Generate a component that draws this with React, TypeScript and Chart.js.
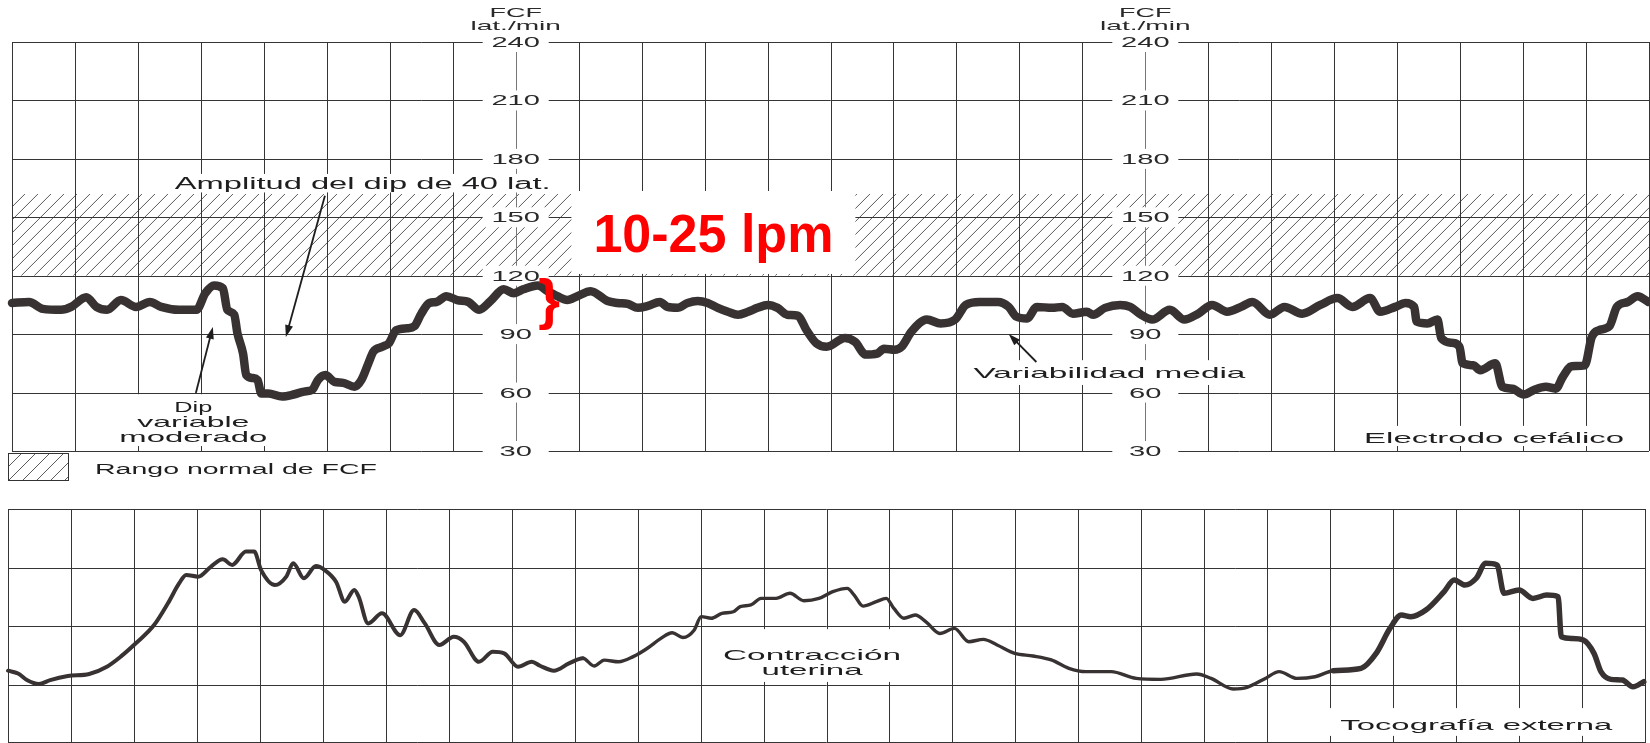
import { useEffect, useRef } from 'react';
import { Chart, registerables } from 'chart.js';

Chart.register(...registerables);

// ---------- DATA ----------
// Fetal heart rate trace: [minute, beats per minute]
const fhrTrace: [number, number][] = [
  [0, 106], [0.27, 106.5], [0.49, 103], [0.78, 102.5], [0.94, 104], [1.18, 109], [1.34, 104], [1.51, 102.5],
  [1.73, 107.5], [1.97, 104], [2.19, 106.5], [2.37, 104], [2.65, 102.5], [2.93, 102.5], [3.07, 111], [3.21, 115],
  [3.35, 113.5], [3.42, 102.5], [3.53, 100], [3.58, 90.5], [3.67, 80], [3.72, 69], [3.82, 67.5], [3.9, 66.5],
  [3.96, 59.5], [4.07, 59.5], [4.29, 58], [4.47, 59], [4.64, 60.5], [4.77, 61.5], [4.86, 66.5], [4.98, 69],
  [5.12, 65.5], [5.26, 65], [5.44, 63], [5.55, 66.5], [5.66, 75], [5.74, 81], [5.88, 83.5], [5.99, 85.5],
  [6.1, 92], [6.28, 93], [6.39, 94], [6.5, 100.5], [6.63, 106], [6.74, 106.5], [6.9, 109.5], [7.07, 107.5],
  [7.25, 106.5], [7.42, 102.5], [7.6, 107], [7.81, 113], [7.97, 111], [8.12, 113], [8.35, 115], [8.51, 112],
  [8.66, 109.5], [8.82, 107.5], [8.98, 109.5], [9.19, 112], [9.46, 107], [9.62, 106], [9.78, 105.5], [9.94, 103.5],
  [10.1, 104.5], [10.29, 106.5], [10.41, 104], [10.57, 103.5], [10.73, 106], [10.89, 107], [11.05, 106], [11.21, 103.5],
  [11.37, 101.5], [11.53, 100], [11.69, 101.5], [11.84, 103.5], [12.0, 105], [12.16, 103.5], [12.31, 100], [12.48, 99.5],
  [12.62, 92], [12.77, 85.5], [12.94, 83.5], [13.23, 88], [13.39, 86], [13.56, 79.5], [13.74, 80], [13.85, 82.5],
  [14.02, 82], [14.13, 83.5], [14.29, 91.5], [14.53, 97.5], [14.75, 95.5], [14.98, 97.5], [15.15, 105], [15.37, 106.5],
  [15.66, 106.5], [15.83, 104], [15.95, 99], [16.12, 98], [16.28, 104], [16.52, 103.5], [16.68, 104], [16.85, 100.5],
  [17.07, 101.5], [17.17, 100], [17.36, 103.5], [17.6, 105], [17.76, 104], [17.93, 100], [18.11, 97.5], [18.39, 102.5],
  [18.62, 97.5], [18.84, 100.5], [19.06, 105], [19.3, 101.5], [19.52, 104], [19.7, 106.5], [19.98, 100], [20.21, 104],
  [20.49, 100.5], [20.78, 105], [21.05, 108.5], [21.29, 104], [21.57, 108.5], [21.73, 101.5], [21.97, 104], [22.13, 106],
  [22.27, 104], [22.31, 96.5], [22.48, 95.5], [22.64, 97.5], [22.7, 88], [22.88, 85.5], [22.99, 83.5], [23.04, 75],
  [23.21, 74], [23.32, 71.5], [23.56, 75], [23.67, 63], [23.83, 62], [24.01, 59], [24.18, 61.5], [24.36, 63],
  [24.52, 62], [24.63, 68], [24.77, 73.5], [24.98, 74], [25.09, 88.5], [25.2, 92], [25.37, 94], [25.49, 104],
  [25.66, 106.5], [25.82, 109.5], [25.99, 106.5],
];

// Uterine contraction (tocography) trace: [minute, relative pressure]
const tocoTrace: [number, number][] = [
  [0, 30.9], [0.16, 29.7], [0.3, 26.9], [0.49, 25.2], [0.67, 26.9], [0.95, 28.6], [1.29, 29.5], [1.57, 32.6],
  [1.79, 36.9], [2.03, 42.6], [2.32, 50.4], [2.54, 59.7], [2.72, 68.3], [2.83, 71.8], [3.02, 71.1], [3.22, 75.3],
  [3.41, 78.5], [3.56, 76.1], [3.78, 81.8], [3.91, 81.8], [4.02, 73.9], [4.24, 67.5], [4.42, 71.1], [4.53, 76.8],
  [4.7, 70.4], [4.89, 75.6], [5.03, 73.9], [5.21, 68.9], [5.35, 60.4], [5.5, 65.4], [5.57, 62.5], [5.72, 51.1],
  [5.94, 55.4], [6.23, 46.1], [6.45, 56.8], [6.62, 51.1], [6.85, 41.9], [7.08, 45.4], [7.24, 43.3], [7.48, 34.7],
  [7.7, 39], [7.88, 38.3], [8.1, 32.6], [8.32, 34.7], [8.45, 33], [8.67, 30.9], [8.91, 34], [9.13, 36.2],
  [9.31, 32.9], [9.47, 35.4], [9.7, 34.7], [9.93, 36.9], [10.15, 40.4], [10.37, 44.7], [10.55, 47.1], [10.72, 45.1],
  [10.9, 48.3], [11.01, 54], [11.17, 53.3], [11.34, 55.4], [11.52, 56.1], [11.63, 58.3], [11.8, 59], [11.96, 61.8],
  [12.2, 61.8], [12.42, 64], [12.64, 60.8], [12.88, 61.8], [13.1, 64.7], [13.33, 66.1], [13.44, 63.2], [13.58, 58.5],
  [13.79, 60.4], [13.95, 61.8], [14.07, 57.5], [14.23, 53.3], [14.41, 54.7], [14.58, 51.8], [14.8, 46.8], [15.03, 49],
  [15.26, 43.3], [15.49, 44.3], [15.71, 41.9], [15.99, 38.3], [16.28, 37.2], [16.57, 35.5], [16.85, 31.9], [17.12, 30.5],
  [17.3, 30.5], [17.52, 30.5], [17.92, 27.6], [18.31, 27.2], [18.88, 29.5], [19.11, 27.6], [19.46, 23.1], [19.68, 23.8],
  [19.97, 27.6], [20.19, 30.5], [20.47, 27.6], [20.76, 28.3], [21.05, 30.9], [21.49, 31.9], [21.73, 38.3], [21.95, 49],
  [22.13, 54.7], [22.28, 54], [22.52, 56.8], [22.81, 64.7], [22.97, 69.7], [23.14, 67.5], [23.32, 70.4], [23.47, 76.8],
  [23.65, 76.1], [23.76, 64], [24.0, 65.4], [24.22, 61.8], [24.44, 63.2], [24.62, 62.5], [24.67, 45.4], [24.84, 44.7],
  [25.02, 44], [25.19, 38.3], [25.3, 30.5], [25.46, 27.2], [25.64, 26.9], [25.81, 24], [25.98, 26.2],
];

const fhrTicks = [30, 60, 90, 120, 150, 180, 210, 240];
const tocoLevels = [0, 25, 50, 75, 100];
const gridMinutes = [0, 1, 2, 3, 4, 5, 6, 7, 8, 9, 10, 11, 12, 13, 14, 15, 16, 17, 18, 19, 20, 21, 22, 23, 24, 25, 26];
const scaleColumns = [8, 18];
const normalRange = [120, 162];
const axisTitle = ['FCF', 'lat./min'];
const legendText = 'Rango normal de FCF';
const variabilityText = '10-25 lpm';

// annotations (data coordinates: [minute, value])
const fhrNotes = [
  { lines: [['Amplitud del dip de 40 lat.', 376]], at: [5.57, 164.3], size: 16, gap: 0, pad: [4, 4, 3] },
  { lines: [['Dip', 38], ['variable', 112], ['moderado', 148]], at: [2.88, 50], size: 15, gap: 15, pad: [5, 7, 4] },
  { lines: [['Variabilidad media', 272]], at: [17.43, 67.5], size: 15, gap: 0, pad: [8, 7, 7] },
  { lines: [['Electrodo cefálico', 260]], at: [23.54, 34.1], size: 15.5, gap: 0, pad: [8, 6, 3] },
];
const fhrArrows = [
  { from: [4.97, 161], to: [4.35, 88.5] },
  { from: [2.92, 59.8], to: [3.19, 93.7] },
  { from: [16.27, 75.7], to: [15.83, 90.1] },
];
const variabilityLabel = { at: [11.14, 132.2], size: 53, width: 240, pad: [22, 23, 22] };
const braceMark = { at: [8.53, 106], size: 56 };

const tocoNotes = [
  { lines: [['Contracción', 178], ['uterina', 101]], at: [12.77, 35.5], size: 15, gap: 15, pad: [16, 20, 7] },
  { lines: [['Tocografía externa', 272]], at: [23.32, 5.6], size: 15, gap: 0, pad: [14, 11, 6] },
];

// ---------- STYLE ----------
const FONT = '"Liberation Sans", Arial, Helvetica, sans-serif';
const INK = '#1f1d1d';
const GRID = '#353535';
const TRACE = '#383232';
const HATCH = '#5a5a5a';
const RED = '#ff0000';
const LABEL_SX = 2.08;

function drawText(ctx: CanvasRenderingContext2D, text: string, cx: number, base: number, size: number, opt: any = {}) {
  ctx.save();
  ctx.font = `${opt.weight || 'normal'} ${size}px ${FONT}`;
  const w = ctx.measureText(text).width;
  const sx = opt.width ? opt.width / w : opt.sx || 1;
  ctx.translate(cx, base);
  ctx.scale(sx, 1);
  ctx.fillStyle = opt.color || INK;
  ctx.textAlign = 'center';
  ctx.textBaseline = 'alphabetic';
  ctx.fillText(text, 0, 0);
  ctx.restore();
  return w * sx;
}

function hatch(ctx: CanvasRenderingContext2D, x0: number, y0: number, x1: number, y1: number, step: number) {
  ctx.save();
  ctx.beginPath();
  ctx.rect(x0, y0, x1 - x0, y1 - y0);
  ctx.clip();
  ctx.beginPath();
  const h = y1 - y0;
  for (let x = x0 - h; x < x1 + h; x += step) {
    ctx.moveTo(x, y1);
    ctx.lineTo(x + h, y0);
  }
  ctx.strokeStyle = HATCH;
  ctx.lineWidth = 1;
  ctx.stroke();
  ctx.restore();
}

const crisp = (v: number) => Math.round(v) + 0.5;

function drawNote(ctx: CanvasRenderingContext2D, chart: any, note: any) {
  const cx = chart.scales.x.getPixelForValue(note.at[0]);
  const base = chart.scales.y.getPixelForValue(note.at[1]);
  const cap = note.size * 0.72;
  const half = Math.max(...note.lines.map((l: any) => l[1])) / 2;
  const top = base - cap - note.pad[1];
  const bottom = base + (note.lines.length - 1) * note.gap + note.pad[2];
  ctx.fillStyle = '#ffffff';
  ctx.fillRect(cx - half - note.pad[0], top, 2 * (half + note.pad[0]), bottom - top);
  note.lines.forEach((l: any, i: number) => {
    drawText(ctx, l[0], cx, base + i * note.gap, note.size, { width: l[1] });
  });
}

function drawArrow(ctx: CanvasRenderingContext2D, x0: number, y0: number, x1: number, y1: number) {
  const a = Math.atan2(y1 - y0, x1 - x0);
  const len = 12;
  const hw = 4;
  ctx.save();
  ctx.strokeStyle = INK;
  ctx.fillStyle = INK;
  ctx.lineWidth = 1.8;
  ctx.beginPath();
  ctx.moveTo(x0, y0);
  ctx.lineTo(x1 - Math.cos(a) * len * 0.7, y1 - Math.sin(a) * len * 0.7);
  ctx.stroke();
  ctx.beginPath();
  ctx.moveTo(x1, y1);
  ctx.lineTo(x1 - Math.cos(a) * len - Math.sin(a) * hw, y1 - Math.sin(a) * len + Math.cos(a) * hw);
  ctx.lineTo(x1 - Math.cos(a) * len + Math.sin(a) * hw, y1 - Math.sin(a) * len - Math.cos(a) * hw);
  ctx.closePath();
  ctx.fill();
  ctx.restore();
}

const fhrPaper = {
  id: 'fhrPaper',
  beforeDatasetsDraw(chart: any) {
    const { ctx, chartArea: ca } = chart;
    const xs = chart.scales.x;
    const ys = chart.scales.y;
    ctx.save();
    // normal range hatch
    hatch(ctx, ca.left, ys.getPixelForValue(normalRange[1]), ca.right, ys.getPixelForValue(normalRange[0]), 13);
    // grid
    ctx.beginPath();
    fhrTicks.forEach((v) => {
      const y = crisp(ys.getPixelForValue(v));
      ctx.moveTo(ca.left, y);
      ctx.lineTo(ca.right, y);
    });
    gridMinutes.forEach((m) => {
      if (scaleColumns.includes(m)) return;
      const x = crisp(xs.getPixelForValue(m));
      ctx.moveTo(x, ys.getPixelForValue(240));
      ctx.lineTo(x, ys.getPixelForValue(30));
    });
    ctx.strokeStyle = GRID;
    ctx.lineWidth = 1;
    ctx.stroke();
    // scale columns
    scaleColumns.forEach((m) => {
      const cx = xs.getPixelForValue(m);
      ctx.beginPath();
      ctx.moveTo(crisp(cx), ys.getPixelForValue(240));
      ctx.lineTo(crisp(cx), ys.getPixelForValue(30));
      ctx.strokeStyle = '#777';
      ctx.lineWidth = 1;
      ctx.stroke();
      fhrTicks.forEach((v) => {
        const y = ys.getPixelForValue(v);
        ctx.fillStyle = '#fff';
        ctx.fillRect(cx - 33, y - 10, 66, 20);
        drawText(ctx, String(v), cx, y + 5, 14, { sx: LABEL_SX, color: '#2a2a2a' });
      });
      drawText(ctx, axisTitle[0], cx, ca.top - 25, 13, { sx: LABEL_SX, color: '#2a2a2a' });
      drawText(ctx, axisTitle[1], cx, ca.top - 12, 13.5, { sx: LABEL_SX, color: '#2a2a2a' });
    });
    // notes
    fhrNotes.forEach((n) => drawNote(ctx, chart, n));
    // legend
    const lx = ca.left - 4;
    const ly = ca.bottom + 2;
    hatch(ctx, lx, ly, lx + 60, ly + 27, 14);
    ctx.strokeStyle = '#333';
    ctx.lineWidth = 1;
    ctx.strokeRect(crisp(lx), crisp(ly), 60, 27);
    drawText(ctx, legendText, lx + 228, ly + 21, 14, { width: 282 });
    ctx.restore();
  },
  afterDatasetsDraw(chart: any) {
    const { ctx } = chart;
    const xs = chart.scales.x;
    const ys = chart.scales.y;
    ctx.save();
    fhrArrows.forEach((a) => {
      drawArrow(
        ctx,
        xs.getPixelForValue(a.from[0]), ys.getPixelForValue(a.from[1]),
        xs.getPixelForValue(a.to[0]), ys.getPixelForValue(a.to[1]),
      );
    });
    // red variability label
    const lbl = variabilityLabel;
    const cx = xs.getPixelForValue(lbl.at[0]);
    const base = ys.getPixelForValue(lbl.at[1]);
    const cap = lbl.size * 0.716;
    ctx.fillStyle = '#fff';
    ctx.fillRect(cx - lbl.width / 2 - lbl.pad[0], base - cap - lbl.pad[1], lbl.width + 2 * lbl.pad[0], cap + lbl.pad[1] + lbl.pad[2]);
    drawText(ctx, variabilityText, cx, base, lbl.size, { width: lbl.width, color: RED, weight: 'bold' });
    // brace
    const bx = xs.getPixelForValue(braceMark.at[0]);
    const by = ys.getPixelForValue(braceMark.at[1]);
    drawText(ctx, '}', bx, by + braceMark.size * 0.26, braceMark.size, { color: RED, weight: 'bold' });
    ctx.restore();
  },
};

const tocoPaper = {
  id: 'tocoPaper',
  beforeDatasetsDraw(chart: any) {
    const { ctx, chartArea: ca } = chart;
    const xs = chart.scales.x;
    const ys = chart.scales.y;
    ctx.save();
    ctx.beginPath();
    tocoLevels.forEach((v) => {
      const y = Math.min(crisp(ys.getPixelForValue(v)), chart.height - 0.5);
      ctx.moveTo(ca.left, y);
      ctx.lineTo(ca.right, y);
    });
    gridMinutes.forEach((m) => {
      const x = crisp(xs.getPixelForValue(m));
      ctx.moveTo(x, ys.getPixelForValue(100));
      ctx.lineTo(x, ys.getPixelForValue(0));
    });
    ctx.strokeStyle = GRID;
    ctx.lineWidth = 1;
    ctx.stroke();
    tocoNotes.forEach((n) => drawNote(ctx, chart, n));
    ctx.restore();
  },
};

function baseOptions(padding: any, yMin: number, yMax: number) {
  return {
    responsive: false,
    animation: false as const,
    events: [],
    layout: { padding },
    plugins: { legend: { display: false }, tooltip: { enabled: false } },
    scales: {
      x: { type: 'linear' as const, min: 0, max: 26, display: false },
      y: { type: 'linear' as const, min: yMin, max: yMax, display: false },
    },
  };
}

export default function App() {
  const topRef = useRef<HTMLCanvasElement>(null);
  const botRef = useRef<HTMLCanvasElement>(null);

  useEffect(() => {
    const fhr = new Chart(topRef.current as HTMLCanvasElement, {
      type: 'line',
      data: {
        datasets: [
          {
            data: fhrTrace.map(([x, y]) => ({ x, y })),
            borderColor: TRACE,
            borderWidth: 8.5,
            pointRadius: 0,
            cubicInterpolationMode: 'monotone',
            borderCapStyle: 'round',
            borderJoinStyle: 'round',
            fill: false,
            clip: 10,
          } as any,
        ],
      },
      options: baseOptions({ left: 12, right: 1, top: 42, bottom: 39 }, 30, 240) as any,
      plugins: [fhrPaper],
    });
    const toco = new Chart(botRef.current as HTMLCanvasElement, {
      type: 'line',
      data: {
        datasets: [
          {
            data: tocoTrace.map(([x, y]) => ({ x, y })),
            borderColor: TRACE,
            borderWidth: 3.6,
            pointRadius: 0,
            cubicInterpolationMode: 'monotone',
            borderCapStyle: 'round',
            borderJoinStyle: 'round',
            fill: false,
            clip: 10,
            segment: {
              borderWidth: (c: any) => (c.p0.parsed.x >= 21 ? 5.5 : c.p0.parsed.x < 9 ? 4 : 3.4),
            },
          } as any,
        ],
      },
      options: baseOptions({ left: 8, right: 5, top: 19, bottom: 0 }, 0, 100) as any,
      plugins: [tocoPaper],
    });
    return () => {
      fhr.destroy();
      toco.destroy();
    };
  }, []);

  return (
    <div style={{ position: 'fixed', left: 0, top: 0, width: 1650, height: 743, background: '#fff', overflow: 'hidden' }}>
      <canvas ref={topRef} width={1650} height={490} style={{ position: 'absolute', left: 0, top: 0, width: 1650, height: 490 }} />
      <canvas ref={botRef} width={1650} height={253} style={{ position: 'absolute', left: 0, top: 490, width: 1650, height: 253 }} />
    </div>
  );
}
